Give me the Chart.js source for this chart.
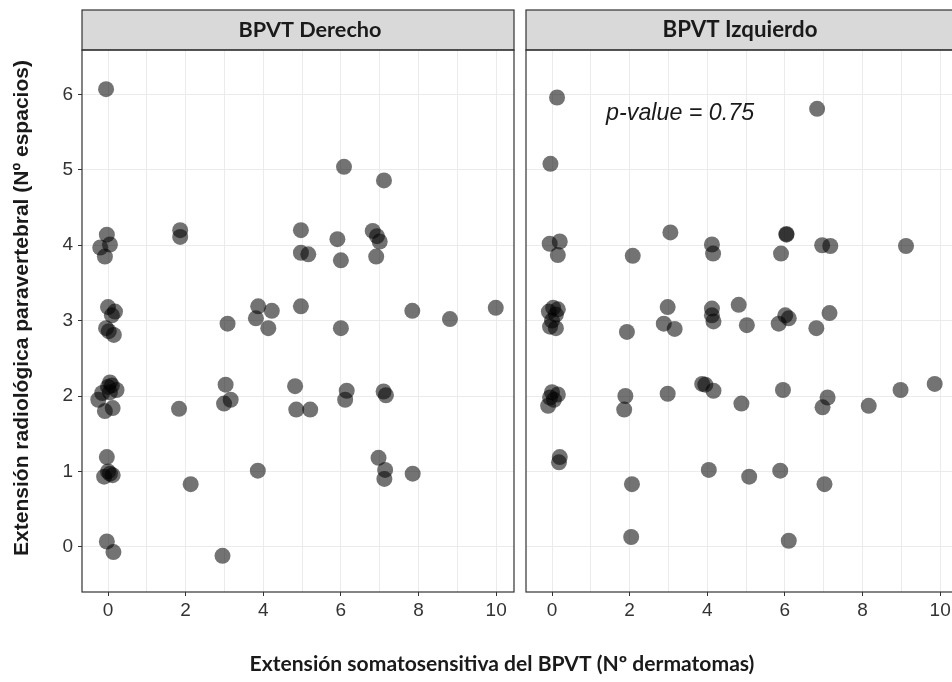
<!DOCTYPE html>
<html><head><meta charset="utf-8">
<script src="https://cdn.jsdelivr.net/npm/chart.js@4.4.1/dist/chart.umd.min.js"></script>
<style>
html,body{margin:0;padding:0;background:#fff;overflow:hidden;width:952px;height:682px;}
#c1{position:absolute;left:0;top:0;}
#c2{position:absolute;left:524px;top:0;}
</style></head><body>
<canvas id="c1" width="952" height="682"></canvas>
<canvas id="c2" width="436" height="682"></canvas>
<script>
const panelTitles = ['BPVT Derecho', 'BPVT Izquierdo'];
const xTitle = 'Extensión somatosensitiva del BPVT (Nº dermatomas)';
const yTitle = 'Extensión radiológica paravertebral (Nº espacios)';
const pValueText = 'p-value = 0.75';
const pValueX = 3.3;
const pValueY = 5.75;
const xTickLabels = [0, 2, 4, 6, 8, 10];
const yTickLabels = [0, 1, 2, 3, 4, 5, 6];

// BPVT Derecho (jittered points)
const derechoX = [-0.05, 6.08, 7.11, -0.03, -0.2, 0.05, -0.08, 1.86, 1.86, 4.97, 4.97, 5.16, 5.91, 6.0, 6.82, 6.93, 7.0, 6.91,
  0.0, 0.18, 0.1, -0.05, 0.02, 0.15, 3.08, 3.87, 3.81, 4.22, 4.13, 4.97, 6.0, 7.84, 8.81, 9.99,
  0.05, 0.1, 0.0, 0.22, -0.15, 0.05, -0.25, -0.08, 0.12, 1.83, 3.03, 2.99, 3.16, 4.82, 4.85, 5.21, 6.15, 6.11, 7.1, 7.16,
  -0.03, 0.0, -0.1, 0.12, 0.05, 2.13, 3.86, 6.97, 7.14, 7.12, 7.85, -0.03, 0.14, 2.95];
const derechoY = [6.07, 5.04, 4.86, 4.14, 3.97, 4.01, 3.85, 4.2, 4.11, 4.2, 3.9, 3.88, 4.08, 3.8, 4.19, 4.12, 4.05, 3.85,
  3.18, 3.12, 3.07, 2.9, 2.86, 2.81, 2.96, 3.19, 3.03, 3.13, 2.9, 3.19, 2.9, 3.13, 3.02, 3.17,
  2.18, 2.14, 2.12, 2.08, 2.04, 2.05, 1.95, 1.8, 1.84, 1.83, 2.15, 1.9, 1.95, 2.13, 1.82, 1.82, 2.07, 1.95, 2.06, 2.01,
  1.19, 1.0, 0.93, 0.95, 0.97, 0.83, 1.01, 1.18, 1.02, 0.9, 0.97, 0.07, -0.07, -0.12];

// BPVT Izquierdo (jittered points)
const izquierdoX = [0.13, 6.83, -0.04, -0.06, 0.2, 0.15, 2.08, 3.05, 4.12, 4.15, 6.04, 6.04, 5.9, 6.96, 7.17, 9.12,
  0.03, 0.15, -0.08, 0.1, 0.0, -0.05, 0.1, 2.98, 2.88, 3.16, 1.93, 4.12, 4.12, 4.16, 4.81, 5.02, 5.84, 6.01, 6.1, 6.81, 7.15,
  0.0, 0.15, -0.05, 0.05, -0.1, 1.89, 1.86, 2.98, 3.87, 3.95, 4.16, 4.88, 5.95, 7.1, 6.97, 8.16, 8.98, 9.86,
  0.2, 0.18, 2.06, 4.04, 5.08, 5.88, 7.02, 2.04, 6.1];
const izquierdoY = [5.96, 5.81, 5.08, 4.02, 4.05, 3.87, 3.86, 4.17, 4.01, 3.89, 4.15, 4.14, 3.89, 4.0, 3.99, 3.99,
  3.17, 3.15, 3.12, 3.08, 3.0, 2.92, 2.9, 3.18, 2.96, 2.89, 2.85, 3.16, 3.07, 2.99, 3.21, 2.94, 2.96, 3.07, 3.03, 2.9, 3.1,
  2.05, 2.02, 1.98, 1.95, 1.87, 2.0, 1.82, 2.03, 2.16, 2.15, 2.07, 1.9, 2.08, 1.98, 1.85, 1.87, 2.08, 2.16,
  1.19, 1.12, 0.83, 1.02, 0.93, 1.01, 0.83, 0.13, 0.08];

const toPoints = (xs, ys) => xs.map((x, i) => ({x: x, y: ys[i]}));

// set a font whose rendered width matches a target width
function fitFont(ctx, style, family, text, targetW) {
  ctx.font = style + ' 20px ' + family;
  const w = ctx.measureText(text).width;
  const size = 20 * targetW / w;
  ctx.font = style + ' ' + size.toFixed(2) + 'px ' + family;
}

const facetPlugin = {
  id: 'facet',
  afterDraw(chart, args, opts) {
    const ctx = chart.ctx, a = chart.chartArea;
    ctx.save();
    ctx.fillStyle = '#d9d9d9';
    ctx.fillRect(a.left, 10, a.right - a.left, a.top - 10);
    ctx.strokeStyle = '#333333';
    ctx.lineWidth = 1.2;
    ctx.strokeRect(a.left, 10, a.right - a.left, a.top - 10);
    ctx.strokeRect(a.left, a.top, a.right - a.left, a.bottom - a.top);
    ctx.fillStyle = '#1a1a1a';
    ctx.textAlign = 'center';
    ctx.textBaseline = 'middle';
    fitFont(ctx, 'bold', 'Lato', opts.strip, opts.stripW);
    ctx.fillText(opts.strip, opts.stripX, 30);
    if (opts.titles) {
      fitFont(ctx, 'bold', 'Lato', xTitle, 505);
      ctx.fillText(xTitle, 502, 664);
      ctx.save();
      ctx.translate(22, 308);
      ctx.rotate(-Math.PI / 2);
      fitFont(ctx, 'bold', '"Liberation Sans"', yTitle, 496);
      ctx.fillText(yTitle, 0, 0);
      ctx.restore();
    }
    if (opts.pvalue) {
      fitFont(ctx, 'italic', '"Liberation Sans"', pValueText, 148);
      ctx.fillText(pValueText, chart.scales.x.getPixelForValue(pValueX), chart.scales.y.getPixelForValue(pValueY));
    }
    ctx.restore();
  }
};

function makeChart(id, pts, isLeft, stripText, stripX, stripW) {
  return new Chart(document.getElementById(id), {
    type: 'scatter',
    data: {datasets: [{data: pts, backgroundColor: 'rgba(0,0,0,0.55)', borderWidth: 0, pointRadius: 8, pointHoverRadius: 8}]},
    options: {
      responsive: false, animation: false, devicePixelRatio: 1,
      layout: {autoPadding: false,
        padding: isLeft ? {left: 10, right: 438, top: 50, bottom: 0} : {left: 2, right: 2, top: 50, bottom: 0}},
      plugins: {legend: {display: false}, tooltip: {enabled: false},
        facet: {strip: stripText, stripX: stripX, stripW: stripW, titles: isLeft, pvalue: !isLeft}},
      scales: {
        x: {
          type: 'linear', min: -0.67, max: 10.46,
          afterFit(s) { s.height = 90; },
          border: {display: false},
          grid: {color: '#ebebeb', lineWidth: 1, tickLength: 4,
            tickColor: c => (c.tick && xTickLabels.includes(c.tick.value)) ? '#333333' : 'rgba(0,0,0,0)'},
          ticks: {stepSize: 1, includeBounds: false, padding: 3, color: '#333333',
            font: {family: '"Liberation Sans"', size: 19},
            callback: v => xTickLabels.includes(v) ? String(v) : ''}
        },
        y: {
          type: 'linear', min: -0.6, max: 6.59,
          afterFit(s) { s.width = isLeft ? 72 : 0; },
          border: {display: false},
          grid: {color: '#ebebeb', lineWidth: 1, tickLength: 4, drawTicks: isLeft, tickColor: '#333333'},
          ticks: {display: isLeft, stepSize: 1, includeBounds: false, padding: 5, color: '#333333',
            font: {family: '"Liberation Sans"', size: 19},
            callback: v => yTickLabels.includes(v) ? String(v) : ''}
        }
      }
    },
    plugins: [facetPlugin]
  });
}

makeChart('c1', toPoints(derechoX, derechoY), true, panelTitles[0], 310, 143);
makeChart('c2', toPoints(izquierdoX, izquierdoY), false, panelTitles[1], 740 - 524, 155);
</script>
</body></html>
